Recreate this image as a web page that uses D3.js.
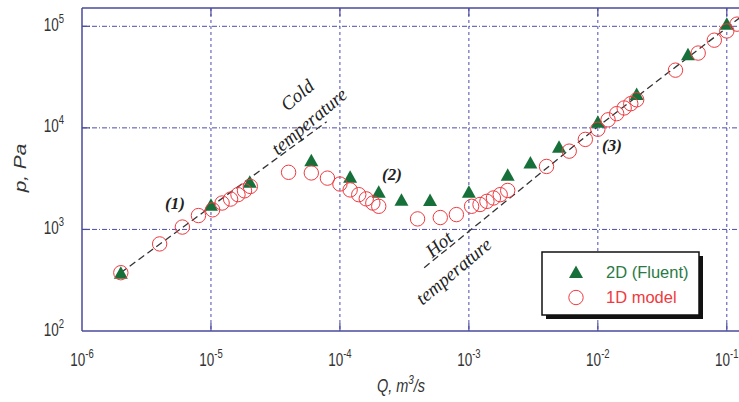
<!DOCTYPE html>
<html><head><meta charset="utf-8">
<script src="https://cdn.jsdelivr.net/npm/d3@7"></script>
<style>html,body{margin:0;padding:0;background:#fff;}svg{display:block;}</style>
</head><body>
<svg id="chart" width="739" height="402"></svg>
<script>
// ---- data ----
const fluentQ = [2e-6, 1e-5, 2e-5, 6e-5, 1.2e-4, 2e-4, 3e-4, 5e-4, 1e-3, 2e-3, 3e-3, 5e-3, 1e-2, 2e-2, 5e-2, 1e-1];
const fluentP = [375, 1750, 2950, 4800, 3300, 2350, 1960, 1950, 2350, 3450, 4550, 6500, 11500, 21500, 53000, 106000];
const modelQ = [2e-6, 4e-6, 6e-6, 8e-6, 1.03e-5, 1.22e-5, 1.42e-5, 1.62e-5, 1.82e-5, 2.02e-5,
  4e-5, 6e-5, 8e-5, 1e-4, 1.2e-4, 1.4e-4, 1.6e-4, 1.8e-4, 2e-4,
  4e-4, 6e-4, 8e-4, 1.05e-3, 1.22e-3, 1.38e-3, 1.55e-3, 1.75e-3, 2e-3,
  4e-3, 6e-3, 8e-3, 1e-2, 1.2e-2, 1.4e-2, 1.6e-2, 1.8e-2, 2e-2, 4e-2, 6e-2, 8e-2, 1e-1, 1.2e-1];
const modelP = [375, 720, 1055, 1370, 1560, 1820, 1990, 2200, 2400, 2650,
  3650, 3600, 3200, 2800, 2450, 2200, 2000, 1820, 1690,
  1270, 1310, 1400, 1690, 1760, 1890, 2040, 2200, 2420,
  4170, 5900, 7700, 9700, 12000, 13800, 15700, 17300, 18900, 37000, 54500, 73000, 90000, 105000];
const coldLineQ = [2e-6, 7.9e-5];
const coldLineP = [375, 11500];
const hotLineQ = [4.5e-4, 1e-2, 0.13];
const hotLineP = [420, 10300, 125000];
const xTicks = [1e-6, 1e-5, 1e-4, 1e-3, 1e-2, 1e-1];
const xTickExp = ["-6", "-5", "-4", "-3", "-2", "-1"];
const yTicks = [1e2, 1e3, 1e4, 1e5];
const yTickExp = ["2", "3", "4", "5"];
const legendLabels = ["2D (Fluent)", "1D model"];

// ---- layout ----
const svg = d3.select("#chart");
const W = 739;
const pLeft = 82, pTop = 8, pBottom = 331;
const x = d3.scaleLog().domain([1e-6, 1e-1]).range([82, 726.8]);
const y = d3.scaleLog().domain([1e2, 1e5]).range([331, 26.3]);
const gridColor = "#4b4bb0";
const axisColor = "#4a4a9e";
const green = "#17703a";
const red = "#ef3a40";
const txt = "#333";

// grid
const g = svg.append("g");
g.selectAll(".vg").data(xTicks.slice(1)).enter().append("line")
  .attr("x1", d => x(d)).attr("x2", d => x(d)).attr("y1", pTop).attr("y2", pBottom)
  .attr("stroke", gridColor).attr("stroke-width", 1).attr("stroke-dasharray", "3,3");
g.selectAll(".hg").data(yTicks.slice(1)).enter().append("line")
  .attr("x1", pLeft).attr("x2", W).attr("y1", d => y(d)).attr("y2", d => y(d))
  .attr("stroke", gridColor).attr("stroke-width", 1).attr("stroke-dasharray", "5,2,1,2");

// solid tick marks
const tl = 8;
xTicks.slice(1).forEach(d => {
  g.append("line").attr("x1", x(d)).attr("x2", x(d)).attr("y1", pBottom).attr("y2", pBottom - tl).attr("stroke", axisColor).attr("stroke-width", 1.2);
  g.append("line").attr("x1", x(d)).attr("x2", x(d)).attr("y1", pTop).attr("y2", pTop + tl).attr("stroke", axisColor).attr("stroke-width", 1.2);
});
yTicks.slice(1).forEach(d => {
  g.append("line").attr("x1", pLeft).attr("x2", pLeft + tl).attr("y1", y(d)).attr("y2", y(d)).attr("stroke", axisColor).attr("stroke-width", 1.2);
});

// frame
g.append("line").attr("x1", pLeft).attr("x2", W).attr("y1", pTop).attr("y2", pTop).attr("stroke", axisColor).attr("stroke-width", 1.5);
g.append("line").attr("x1", pLeft).attr("x2", W).attr("y1", pBottom).attr("y2", pBottom).attr("stroke", axisColor).attr("stroke-width", 1.5);
g.append("line").attr("x1", pLeft).attr("x2", pLeft).attr("y1", pTop).attr("y2", pBottom).attr("stroke", axisColor).attr("stroke-width", 1.5);

// tick labels
const tf = "'Liberation Sans', Arial, sans-serif";
xTicks.forEach((d, i) => {
  const t = svg.append("g").attr("transform", `translate(${x(d)},366) scale(1,1.33)`)
    .append("text").attr("text-anchor", "middle").attr("font-family", tf).attr("font-size", 13.5).attr("fill", txt);
  t.append("tspan").text("10");
  t.append("tspan").attr("dy", -6).attr("font-size", 9.5).text(xTickExp[i]);
});
yTicks.forEach((d, i) => {
  const t = svg.append("g").attr("transform", `translate(64,${y(d) + 4.5}) scale(1,1.33)`)
    .append("text").attr("text-anchor", "end").attr("font-family", tf).attr("font-size", 13.5).attr("fill", txt);
  t.append("tspan").text("10");
  t.append("tspan").attr("dy", -6).attr("font-size", 9.5).text(yTickExp[i]);
});

// axis titles
const xt = svg.append("g").attr("transform", "translate(401,392) scale(1,1.33)")
  .append("text").attr("text-anchor", "middle").attr("font-family", tf).attr("font-size", 14.5)
  .attr("font-style", "italic").attr("fill", txt);
xt.append("tspan").text("Q, m");
xt.append("tspan").attr("dy", -6).attr("font-size", 10).text("3");
xt.append("tspan").attr("dy", 6).text("/s");
svg.append("g").attr("transform", "translate(26,168) rotate(-90) scale(1.3,1)")
  .append("text").attr("text-anchor", "middle").attr("font-family", tf).attr("font-size", 16)
  .attr("font-style", "italic").attr("fill", txt).text("p, Pa");

// dashed reference lines
const line = d3.line().x(d => x(d[0])).y(d => y(d[1]));
svg.append("path").attr("d", line(coldLineQ.map((q, i) => [q, coldLineP[i]])))
  .attr("fill", "none").attr("stroke", "#333").attr("stroke-width", 1.3).attr("stroke-dasharray", "7,4");
svg.append("path").attr("d", line(hotLineQ.map((q, i) => [q, hotLineP[i]])))
  .attr("fill", "none").attr("stroke", "#333").attr("stroke-width", 1.3).attr("stroke-dasharray", "7,4");

// markers
const tri = "M0,-6.5L7,6L-7,6Z";
svg.append("g").selectAll("path").data(fluentQ.map((q, i) => [q, fluentP[i]])).enter().append("path")
  .attr("d", tri).attr("transform", d => `translate(${x(d[0])},${y(d[1])})`).attr("fill", green);
svg.append("g").selectAll("circle").data(modelQ.map((q, i) => [q, modelP[i]])).enter().append("circle")
  .attr("cx", d => x(d[0])).attr("cy", d => y(d[1])).attr("r", 7.2)
  .attr("fill", "none").attr("stroke", red).attr("stroke-width", 1);

// annotations
const sf = "'Liberation Serif', 'Times New Roman', serif";
[["(1)", 175, 209], ["(2)", 392, 180], ["(3)", 612, 151]].forEach(a => {
  svg.append("text").attr("x", a[1]).attr("y", a[2]).attr("text-anchor", "middle")
    .attr("font-family", sf).attr("font-style", "italic").attr("font-weight", "bold")
    .attr("font-size", 17).attr("fill", "#222").text(a[0]);
});
[["Cold", 297, 95], ["temperature", 309, 121], ["Hot", 439, 244], ["temperature", 453.5, 271]].forEach(a => {
  svg.append("text").attr("transform", `translate(${a[1]},${a[2]}) rotate(-40)`)
    .attr("text-anchor", "middle").attr("dy", "0.35em")
    .attr("font-family", sf).attr("font-style", "italic")
    .attr("font-size", 19).attr("fill", "#222").text(a[0]);
});

// legend
const lx = 542, ly = 252, lw = 157, lh = 63;
svg.append("rect").attr("x", lx + 4).attr("y", ly + 4).attr("width", lw).attr("height", lh).attr("fill", "#111");
svg.append("rect").attr("x", lx).attr("y", ly).attr("width", lw).attr("height", lh)
  .attr("fill", "#fff").attr("stroke", "#111").attr("stroke-width", 1.5);
svg.append("path").attr("d", tri).attr("transform", `translate(576,${ly + 20})`).attr("fill", green);
svg.append("circle").attr("cx", 576).attr("cy", ly + 45.5).attr("r", 7.2).attr("fill", "none").attr("stroke", red).attr("stroke-width", 1);
svg.append("text").attr("x", 606).attr("y", ly + 25.5).attr("font-family", tf).attr("font-size", 16.5)
  .attr("fill", "#2b7a45").text(legendLabels[0]);
svg.append("text").attr("x", 606).attr("y", ly + 51).attr("font-family", tf).attr("font-size", 16.5)
  .attr("fill", red).text(legendLabels[1]);
</script>
</body></html>
